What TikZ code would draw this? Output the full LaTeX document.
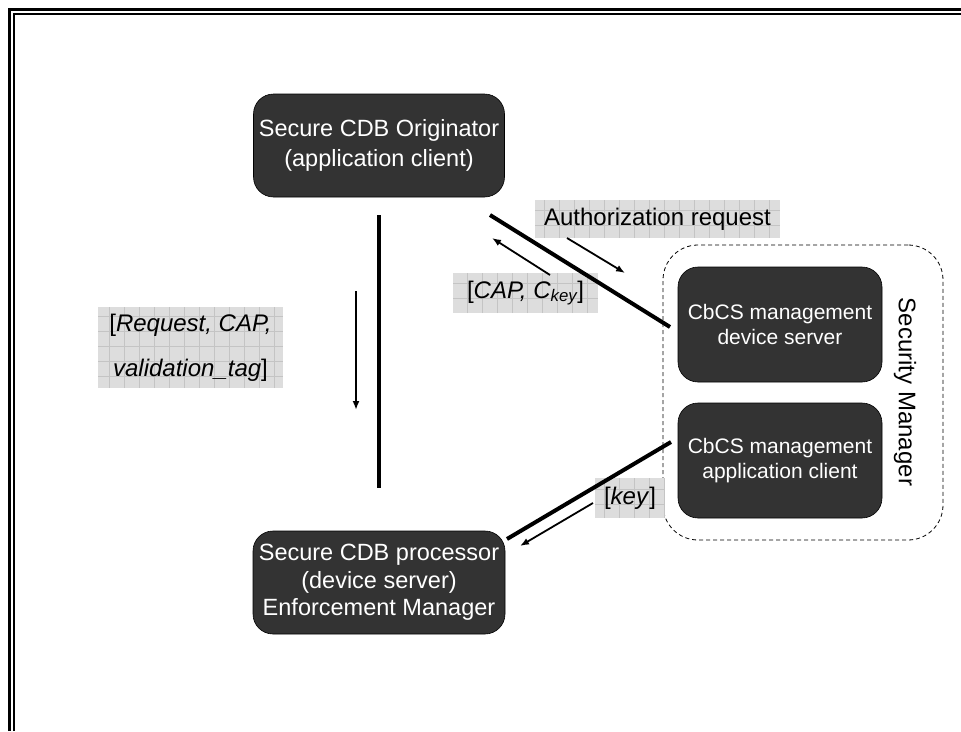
\documentclass[tikz,border=0pt]{standalone}
\usepackage{fontspec}
\setmainfont{Liberation Sans}
\usetikzlibrary{arrows.meta}

\definecolor{boxgray}{HTML}{333333}
\definecolor{labelgray}{HTML}{DDDDDD}
\definecolor{gridgray}{HTML}{C4C4C4}

\tikzstyle{db} = [rounded corners=20pt, fill=boxgray, draw=black, line width=0.6pt, text=white, align=center, inner sep=0pt]
\tikzstyle{lb} = [fill=labelgray, inner sep=0pt, align=center, font=\fontsize{24}{45}\selectfont, path picture={\draw[gridgray, line width=0.6pt] (path picture bounding box.south west) grid[step=15pt] (path picture bounding box.north east);}]
\tikzstyle{wire} = [line width=4pt]
\tikzstyle{msg} = [line width=1.8pt, -{Latex[length=9pt,width=7pt]}]

\begin{document}
\begin{tikzpicture}[x=1pt, y=-1pt]
  \useasboundingbox (0,0) rectangle (961,731);
  \draw[line width=3pt] (9.5,731) -- (9.5,9.5) -- (961,9.5);
  \draw[line width=2pt] (13.5,731) -- (13.5,13.5) -- (961,13.5);

  \node[db, minimum width=251pt, minimum height=103pt, font=\fontsize{23.5}{30}\selectfont] (orig) at (379,145.5) {Secure CDB Originator\\(application client)};
  \node[db, minimum width=252pt, minimum height=103pt, font=\fontsize{23.5}{27.5}\selectfont] (proc) at (379,582.5) {Secure CDB processor\\(device server)\\Enforcement Manager};

  \node[draw, dashed, dash pattern=on 4pt off 3pt, line width=0.8pt, rounded corners=35pt, minimum width=280pt, minimum height=295pt] (secmgr) at (803,392.5) {};
  \node[db, minimum width=204pt, minimum height=115pt, font=\fontsize{21}{25}\selectfont] (mds) at (780,324.5) {CbCS management\\device server};
  \node[db, minimum width=204pt, minimum height=115pt, font=\fontsize{21}{25}\selectfont] (mac) at (780,460.5) {CbCS management\\application client};
  \node[rotate=-90, font=\fontsize{24}{28}\selectfont] (smlabel) at (905,392) {Security Manager};

  \node[lb, minimum width=245pt, minimum height=38pt] (authreq) at (657.5,219) {Authorization request};
  \node[lb, minimum width=145pt, minimum height=40pt] (capkey) at (525.5,293) {[\textit{CAP, C\textsubscript{key}}]};
  \node[lb, minimum width=185pt, minimum height=81pt] (reqlbl) at (190.5,347.5) {[\textit{Request, CAP,}\\\textit{validation\_tag}]};
  \node[lb, minimum width=70pt, minimum height=40pt] (keylbl) at (630,498) {[\textit{key}]};

  \coordinate (o1) at (490,215);
  \coordinate (m1) at (670,327);
  \coordinate (m2) at (671,442);
  \coordinate (p1) at (507,539);
  \draw[wire, shorten <=18pt, shorten >=43pt] (orig) -- (proc);
  \draw[wire] (o1) -- (m1);
  \draw[wire] (m2) -- (p1);

  \coordinate (a1) at (356,291);
  \coordinate (a2) at (356,410);
  \coordinate (b1) at (567,238);
  \coordinate (b2) at (625,273);
  \coordinate (c1) at (550,275);
  \coordinate (c2) at (492,238);
  \coordinate (d1) at (593,503);
  \coordinate (d2) at (520,546);
  \draw[msg] (a1) -- (a2);
  \draw[msg] (b1) -- (b2);
  \draw[msg] (c1) -- (c2);
  \draw[msg] (d1) -- (d2);
\end{tikzpicture}
\end{document}
